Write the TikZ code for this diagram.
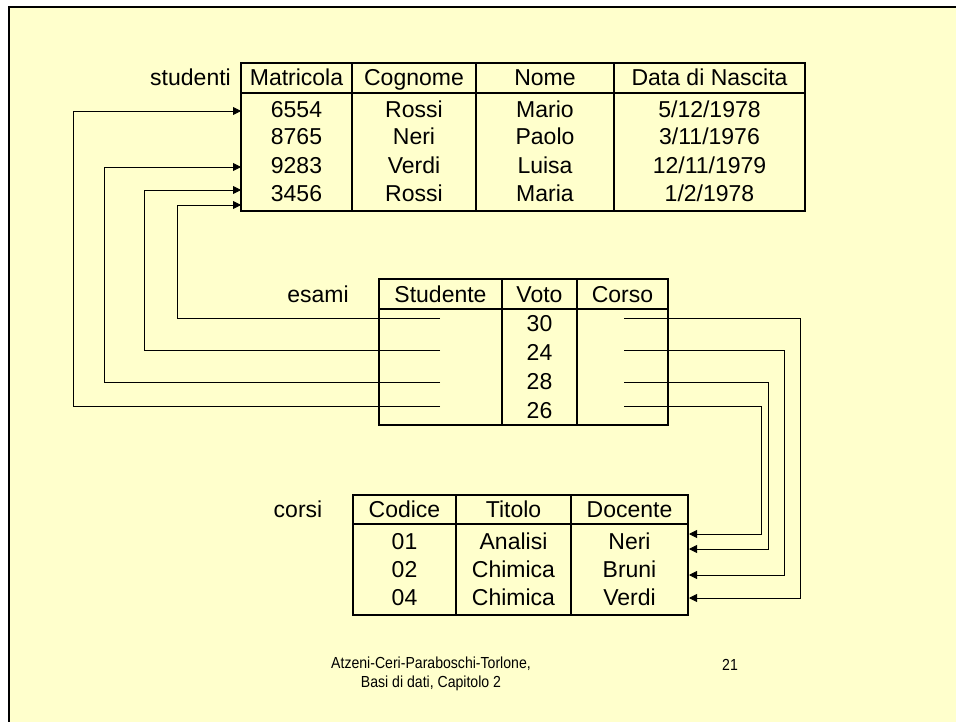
\documentclass[tikz,border=0pt]{standalone}
\usepackage{fontspec}
\setmainfont{Liberation Sans}
\newfontfamily\footfont{Liberation Sans}[FakeStretch=0.88]
\usetikzlibrary{arrows.meta}
\definecolor{slidebg}{HTML}{FFFFCC}
\tikzset{
  cell/.style={inner sep=0pt, anchor=base, font=\fontsize{23}{27}\selectfont},
  lbl/.style={inner sep=0pt, anchor=base, font=\fontsize{23}{27}\selectfont},
  foot/.style={inner sep=0pt, font=\footfont\fontsize{16}{19}\selectfont, align=center},
  tbl/.style={line width=1.3pt},
  conn/.style={line width=0.9pt},
  arr/.style={conn, -{Triangle[length=8pt,width=8pt]}}
}
\begin{document}
\begin{tikzpicture}[x=1pt,y=-1pt]
\useasboundingbox (0,0) rectangle (956,722);
\begin{scope}
\clip (0,0) rectangle (956,722);
\fill[slidebg] (9,7) rectangle (970,740);
\draw[line width=2.5pt] (9,7) rectangle (970,740);
\end{scope}

% ---------- studenti ----------
\draw[tbl] (241,63) rectangle (805,211);
\draw[tbl] (241,93) -- (805,93);
\foreach \x in {352,476,614} \draw[tbl] (\x,63) -- (\x,211);
\node[lbl, anchor=base east] (lstud) at (231,86) {studenti};
\node[cell] (sh1) at (296.5,86) {Matricola};
\node[cell] (sh2) at (414,86) {Cognome};
\node[cell] (sh3) at (545,86) {Nome};
\node[cell] (sh4) at (709.5,86) {Data di Nascita};
\foreach \y/\a/\b/\c/\d/\n in {118/6554/Rossi/Mario/5\slash 12\slash 1978/1,145/8765/Neri/Paolo/3\slash 11\slash 1976/2,174/9283/Verdi/Luisa/12\slash 11\slash 1979/3,202/3456/Rossi/Maria/1\slash 2\slash 1978/4}{
  \node[cell] (sa\n) at (296.5,\y) {\a};
  \node[cell] (sb\n) at (414,\y) {\b};
  \node[cell] (sc\n) at (545,\y) {\c};
  \node[cell] (sd\n) at (709.5,\y) {\d};
}

% ---------- esami ----------
\draw[tbl] (379,279) rectangle (668,425);
\draw[tbl] (379,309) -- (668,309);
\foreach \x in {502,577} \draw[tbl] (\x,279) -- (\x,425);
\node[lbl] (lesami) at (318,302) {esami};
\node[cell] (eh1) at (440.5,302) {Studente};
\node[cell] (eh2) at (539.5,302) {Voto};
\node[cell] (eh3) at (622.5,302) {Corso};
\foreach \y/\v/\n in {331/30/1,360/24/2,389/28/3,418/26/4}{
  \node[cell] (ev\n) at (539.5,\y) {\v};
}

% ---------- corsi ----------
\draw[tbl] (353,495) rectangle (688,615);
\draw[tbl] (353,524) -- (688,524);
\foreach \x in {456,571} \draw[tbl] (\x,495) -- (\x,615);
\node[lbl] (lcorsi) at (298,517.5) {corsi};
\node[cell] (ch1) at (404.5,517.5) {Codice};
\node[cell] (ch2) at (513.5,517.5) {Titolo};
\node[cell] (ch3) at (629.5,517.5) {Docente};
\foreach \y/\a/\b/\c/\n in {549/01/Analisi/Neri/1,577/02/Chimica/Bruni/2,605/04/Chimica/Verdi/3}{
  \node[cell] (ca\n) at (404.5,\y) {\a};
  \node[cell] (cb\n) at (513.5,\y) {\b};
  \node[cell] (cc\n) at (629.5,\y) {\c};
}

% ---------- connector end points ----------
% esami Studente -> studenti
\coordinate (eL1) at (440,318);
\coordinate (eL2) at (440,350);
\coordinate (eL3) at (440,382);
\coordinate (eL4) at (440,406);
\coordinate (sT1) at (241,111);
\coordinate (sT3) at (241,167);
\coordinate (sT4a) at (241,190);
\coordinate (sT4b) at (241,205);
\coordinate (k1) at (177,205);
\coordinate (k2) at (144,190);
\coordinate (k3) at (104,167);
\coordinate (k4) at (73,111);
\draw[arr] (eL1) -| (k1) -- (sT4b);
\draw[arr] (eL2) -| (k2) -- (sT4a);
\draw[arr] (eL3) -| (k3) -- (sT3);
\draw[arr] (eL4) -| (k4) -- (sT1);

% esami Corso -> corsi
\coordinate (eR1) at (624,318);
\coordinate (eR2) at (624,350);
\coordinate (eR3) at (624,382);
\coordinate (eR4) at (624,406);
\coordinate (cT1a) at (689,534);
\coordinate (cT1b) at (689,549);
\coordinate (cT2) at (689,575);
\coordinate (cT3) at (689,598);
\coordinate (m1) at (800,598);
\coordinate (m2) at (784,575);
\coordinate (m3) at (768,549);
\coordinate (m4) at (761,534);
\draw[arr] (eR1) -| (m1) -- (cT3);
\draw[arr] (eR2) -| (m2) -- (cT2);
\draw[arr] (eR3) -| (m3) -- (cT1b);
\draw[arr] (eR4) -| (m4) -- (cT1a);

% ---------- footer ----------
\node[foot] (foot) at (431,674) {Atzeni-Ceri-Paraboschi-Torlone,\\Basi di dati, Capitolo 2};
\node[foot] (page) at (730,665) {21};
\end{tikzpicture}
\end{document}
